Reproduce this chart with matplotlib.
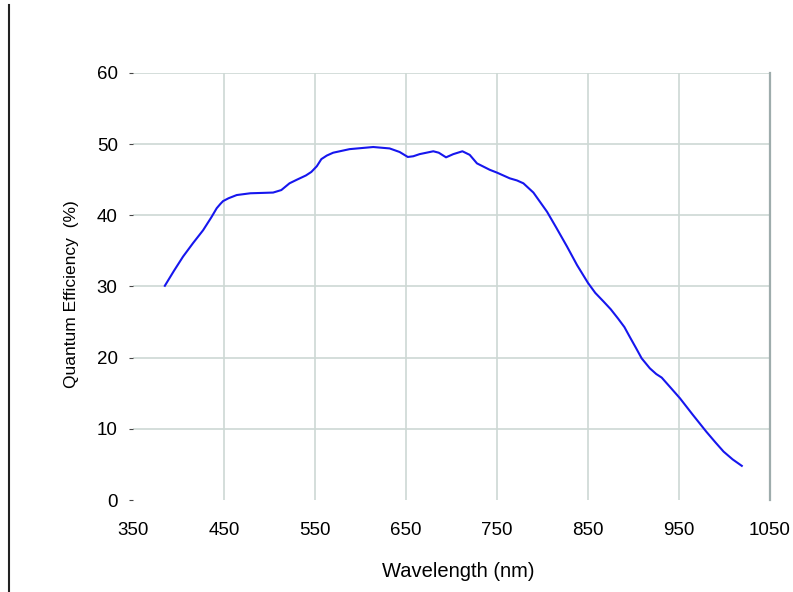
import matplotlib
matplotlib.use("Agg")
import matplotlib.pyplot as plt
from matplotlib.lines import Line2D

# Wavelength (nm) and quantum efficiency (%)
wavelength = [385, 395, 405, 416, 427, 436, 442, 446, 449, 455, 464, 479, 492,
              504, 513, 522, 530, 540, 546, 552, 557, 563, 570, 588, 614, 632,
              643, 652, 658, 665, 680, 686, 694, 702, 712, 720, 728, 742, 750,
              764, 772, 779, 790, 805, 815, 827, 838, 850, 858, 867, 875, 883,
              890, 896, 903, 909, 918, 925, 931, 940, 951, 965, 980, 990, 999,
              1009, 1019]
qe = [30.1, 32.2, 34.2, 36.1, 37.9, 39.7, 41.0, 41.6, 42.0, 42.4, 42.85, 43.1,
      43.15, 43.2, 43.55, 44.5, 45.0, 45.6, 46.1, 46.9, 47.9, 48.4, 48.8, 49.3,
      49.6, 49.4, 48.9, 48.2, 48.3, 48.6, 49.0, 48.8, 48.15, 48.6, 49.0, 48.5,
      47.3, 46.4, 46.0, 45.2, 44.9, 44.5, 43.2, 40.5, 38.3, 35.6, 33.0, 30.5,
      29.1, 27.9, 26.8, 25.5, 24.3, 22.9, 21.3, 19.9, 18.5, 17.7, 17.2, 15.9,
      14.3, 12.0, 9.6, 8.1, 6.8, 5.7, 4.8]

x_ticks = [350, 450, 550, 650, 750, 850, 950, 1050]
y_ticks = [0, 10, 20, 30, 40, 50, 60]

plt.rcParams['font.family'] = ['Liberation Sans', 'DejaVu Sans']

fig = plt.figure(figsize=(7.93, 5.92), dpi=100)
ax = fig.add_axes([0.1677, 0.1554, 0.8033, 0.7213])

grid_col = '#cdd8d4'
ax.plot(wavelength, qe, color='#1616ee', linewidth=1.5, zorder=3)

ax.set_xlim(350, 1050)
ax.set_ylim(0, 60)
ax.set_xticks(x_ticks)
ax.set_yticks(y_ticks)

# grid
for yv in y_ticks[1:]:
    ax.axhline(yv, color=grid_col, linewidth=1.2, zorder=1)
for xv in x_ticks[1:-1]:
    ax.axvline(xv, color=grid_col, linewidth=1.2, zorder=1)

for side in ['left', 'bottom', 'top']:
    ax.spines[side].set_visible(False)
ax.spines['right'].set_color('#9eacac')
ax.spines['right'].set_linewidth(1.6)

ax.tick_params(axis='x', length=0, pad=16, labelsize=13.5)
ax.tick_params(axis='y', length=3, width=0.8, color='#444444', pad=8, labelsize=13.5)

ax.set_xlabel('Wavelength (nm)', fontsize=14.5)
ax.xaxis.set_label_coords(0.51, -0.146)
ax.set_ylabel('Quantum Efficiency  (%)', fontsize=12.5)
ax.yaxis.set_label_coords(-0.085, 0.482)

# black vertical rule at the left edge of the figure
fig.add_artist(Line2D([0.0113, 0.0113], [0.0, 0.9916], color='#222222',
                      linewidth=1.5, transform=fig.transFigure))

fig.savefig('out.png', dpi=100)
